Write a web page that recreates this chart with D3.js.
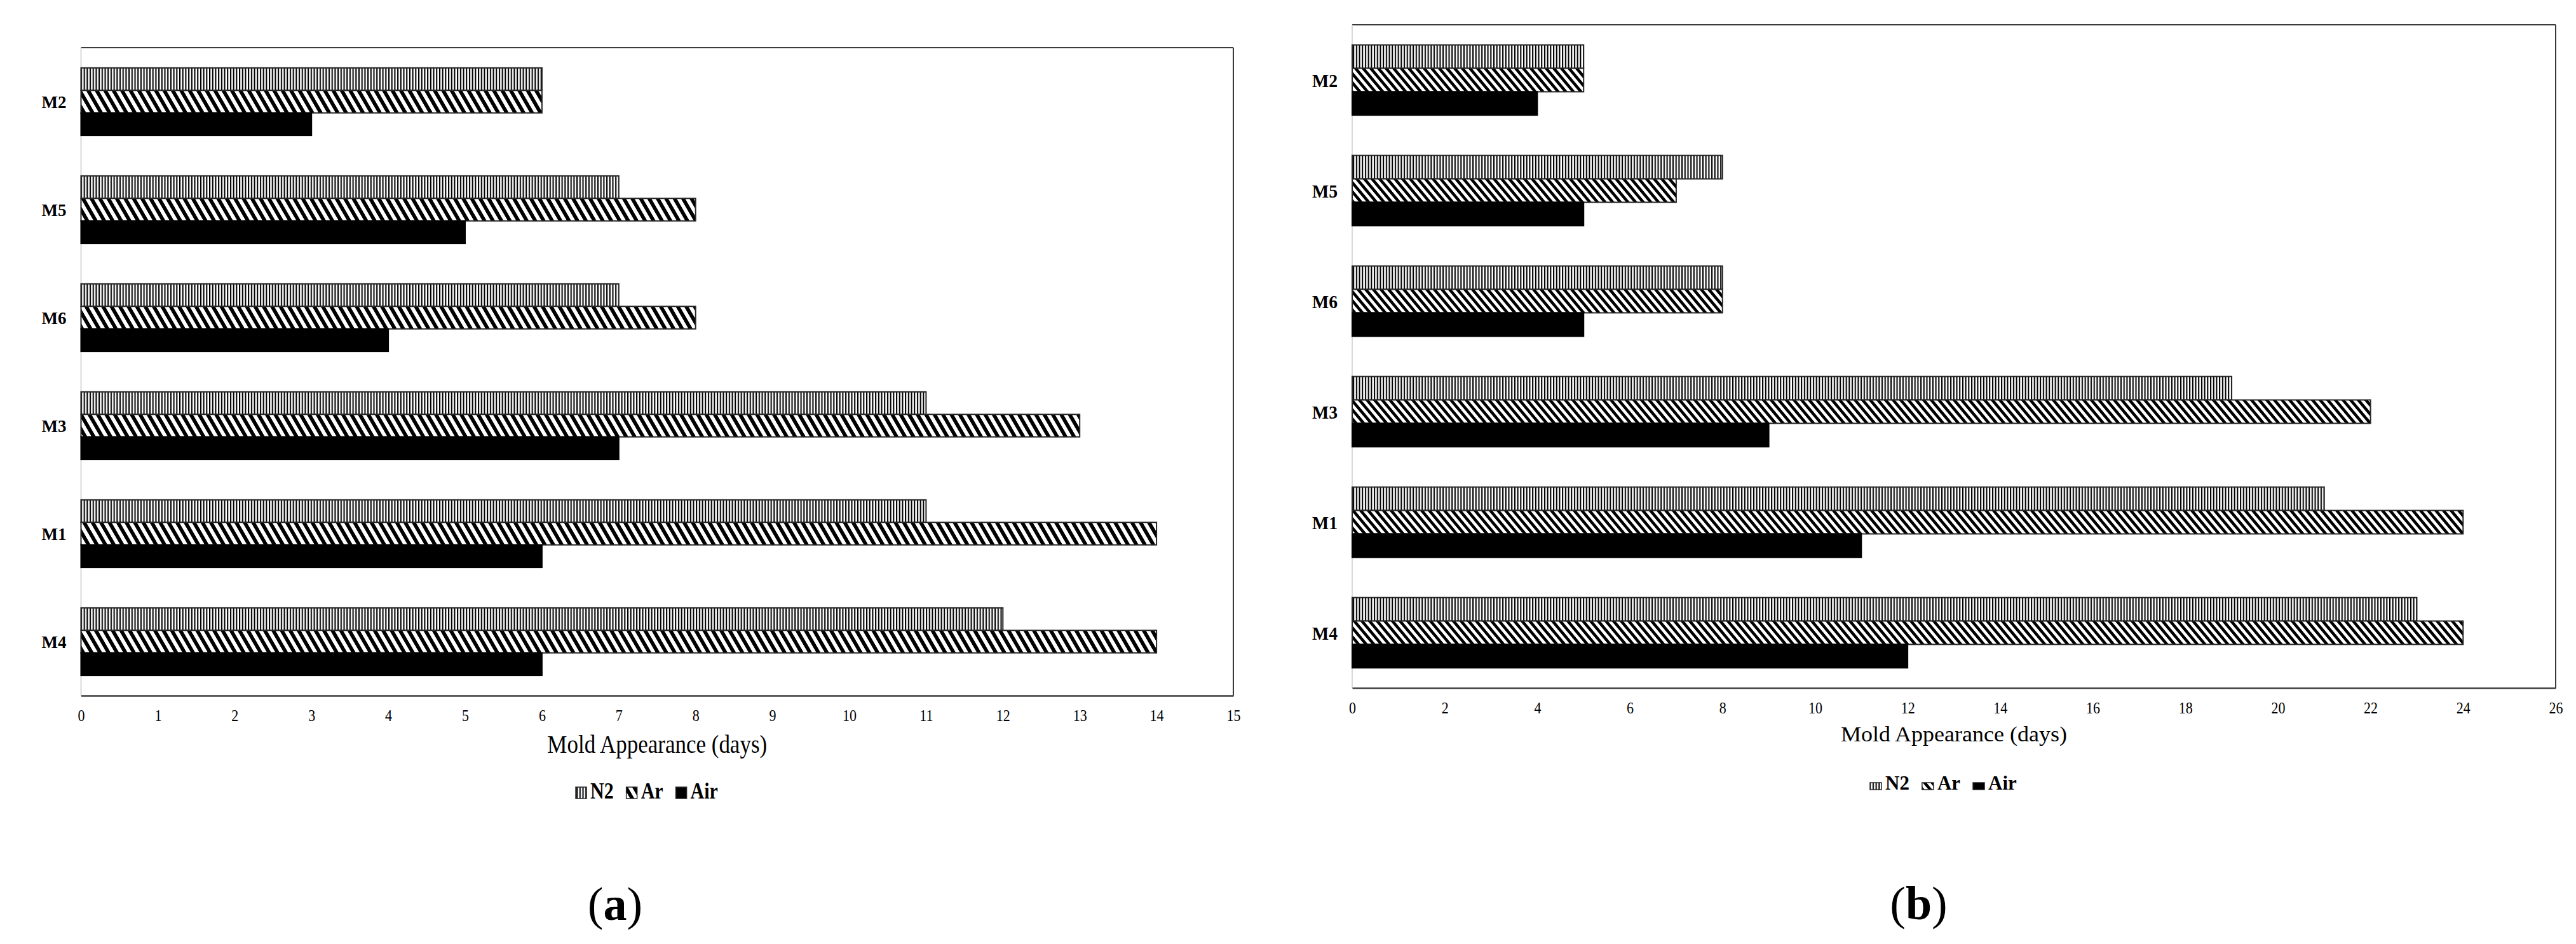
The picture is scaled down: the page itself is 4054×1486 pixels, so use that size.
<!DOCTYPE html>
<html>
<head>
<meta charset="utf-8">
<script src="https://cdn.jsdelivr.net/npm/d3@7/dist/d3.min.js"></script>
<style>
  html, body { margin: 0; padding: 0; background: #fff; }
  svg { display: block; }
  text { font-family: "Liberation Serif", "Times New Roman", serif; fill: #000; }
</style>
</head>
<body>
<script>
// ---------- data ----------
const categories = ["M2", "M5", "M6", "M3", "M1", "M4"];
const seriesNames = ["N2", "Ar", "Air"];

const n2A  = [6, 7, 7, 11, 11, 12];
const arA  = [6, 8, 8, 13, 14, 14];
const airA = [3, 5, 4, 7, 6, 6];

const n2B  = [5, 8, 8, 19, 21, 23];
const arB  = [5, 7, 8, 22, 24, 24];
const airB = [4, 5, 5, 9, 11, 12];

const ticksA = [0, 1, 2, 3, 4, 5, 6, 7, 8, 9, 10, 11, 12, 13, 14, 15];
const ticksB = [0, 2, 4, 6, 8, 10, 12, 14, 16, 18, 20, 22, 24, 26];

const axisTitle = "Mold Appearance (days)";
const panelLabels = ["a", "b"];

// ---------- layout ----------
const W = 4054, H = 1486;
const svg = d3.select("body").append("svg").attr("width", W).attr("height", H);
svg.append("rect").attr("width", W).attr("height", H).attr("fill", "#fff");
const defs = svg.append("defs");

function makePatterns(id, diagPitch, skew) {
  const v = defs.append("pattern").attr("id", "v" + id)
    .attr("patternUnits", "userSpaceOnUse").attr("width", 4.7).attr("height", 10);
  v.append("rect").attr("width", 4.7).attr("height", 10).attr("fill", "#fff");
  v.append("rect").attr("width", 2.1).attr("height", 10).attr("fill", "#000");
  const d = defs.append("pattern").attr("id", "d" + id)
    .attr("patternUnits", "userSpaceOnUse").attr("width", diagPitch).attr("height", 10)
    .attr("patternTransform", `skewX(${skew})`);
  d.append("rect").attr("width", diagPitch).attr("height", 10).attr("fill", "#fff");
  d.append("rect").attr("width", diagPitch / 2).attr("height", 10).attr("fill", "#000");
}

function txt(g, x, y, s, size, weight, anchor, k) {
  return g.append("text")
    .attr("transform", `translate(${x},${y}) scale(1,${k})`)
    .attr("font-size", size).attr("font-weight", weight)
    .attr("text-anchor", anchor).text(s);
}

function drawChart(cfg) {
  makePatterns(cfg.id, cfg.diagPitch, cfg.skew);
  const fills = ["url(#v" + cfg.id + ")", "url(#d" + cfg.id + ")", "#000"];
  const g = svg.append("g");
  const x = d3.scaleLinear().domain([cfg.ticks[0], cfg.ticks[cfg.ticks.length - 1]])
    .range([cfg.x0, cfg.x1]);
  const y = d3.scaleBand().domain(categories).range([cfg.y0, cfg.y1])
    .paddingInner(cfg.pad).paddingOuter(cfg.pad / 2);
  const ys = d3.scaleBand().domain(seriesNames).range([0, y.bandwidth()]);

  // frame: top & right dark, left light gray, bottom dark
  g.append("line").attr("x1", cfg.x0).attr("x2", cfg.x1).attr("y1", cfg.y0).attr("y2", cfg.y0)
    .attr("stroke", "#3a3a3a").attr("stroke-width", 2);
  g.append("line").attr("x1", cfg.x1).attr("x2", cfg.x1).attr("y1", cfg.y0).attr("y2", cfg.y1)
    .attr("stroke", "#3a3a3a").attr("stroke-width", 2);
  g.append("line").attr("x1", cfg.x0).attr("x2", cfg.x0).attr("y1", cfg.y0).attr("y2", cfg.y1)
    .attr("stroke", "#d9d9d9").attr("stroke-width", 2);

  // bars
  const vals = [cfg.n2, cfg.ar, cfg.air];
  categories.forEach((c, ci) => {
    seriesNames.forEach((s, si) => {
      g.append("rect")
        .attr("x", x(0))
        .attr("y", y(c) + ys(s))
        .attr("width", x(vals[si][ci]) - x(0))
        .attr("height", ys.bandwidth())
        .attr("fill", fills[si])
        .attr("stroke", si === 2 ? "#000" : "#262626")
        .attr("stroke-width", 2);
    });
    txt(g, cfg.x0 - 23, y(c) + y.bandwidth() / 2 + cfg.catDy, c, cfg.catSize, "bold", "end", cfg.catK);
  });

  // bottom axis
  const ax = g.append("g").attr("transform", `translate(0,${cfg.y1})`)
    .call(d3.axisBottom(x).tickValues(cfg.ticks).tickSize(0).tickFormat(d3.format("d")));
  ax.select(".domain").attr("stroke", "#3a3a3a").attr("stroke-width", 2.5);
  ax.selectAll(".tick text").each(function (d) {
    const t = d3.select(this);
    t.attr("y", null).attr("dy", null)
      .attr("transform", `translate(0,${cfg.tickBase - cfg.y1}) scale(1,${cfg.tickK})`)
      .attr("font-size", cfg.tickSize)
      .attr("font-family", '"Liberation Serif", "Times New Roman", serif')
      .attr("fill", "#000");
  });

  // axis title
  txt(g, (cfg.x0 + cfg.x1) / 2, cfg.titleBase, axisTitle, cfg.titleSize, "normal", "middle", cfg.titleK);

  // legend
  let lx = cfg.legX;
  seriesNames.forEach((s, si) => {
    g.append("rect").attr("x", lx).attr("y", cfg.legBase - cfg.iconH)
      .attr("width", cfg.iconW).attr("height", cfg.iconH)
      .attr("fill", fills[si]).attr("stroke", "#262626").attr("stroke-width", 1.5);
    const t = txt(g, lx + cfg.iconW + 6, cfg.legBase, s, cfg.legSize, "bold", "start", cfg.legK);
    lx = lx + cfg.iconW + 6 + t.node().getComputedTextLength() + 20;
  });

  // panel label
  const pl = g.append("text").attr("x", cfg.panelX).attr("y", cfg.panelBase)
    .attr("font-size", 74).attr("text-anchor", "middle");
  pl.append("tspan").text("(");
  pl.append("tspan").attr("font-weight", "bold").text(cfg.panel);
  pl.append("tspan").text(")");
}

drawChart({
  id: "A", n2: n2A, ar: arA, air: airA, ticks: ticksA,
  x0: 127.5, x1: 1941, y0: 75, y1: 1095, pad: 0.375,
  diagPitch: 13.3, skew: 30,
  catSize: 27, catK: 1.05, catDy: 9.6,
  tickSize: 22, tickK: 1.18, tickBase: 1135,
  titleSize: 35, titleK: 1.12, titleBase: 1185,
  legX: 906, legBase: 1257, legSize: 30, legK: 1.16, iconW: 17, iconH: 18,
  panel: panelLabels[0], panelX: 968, panelBase: 1448
});

drawChart({
  id: "B", n2: n2B, ar: arB, air: airB, ticks: ticksB,
  x0: 2128, x1: 4022, y0: 39, y1: 1083, pad: 0.364,
  diagPitch: 12, skew: 40,
  catSize: 27.7, catK: 1.09, catDy: 10.7,
  tickSize: 22, tickK: 1.12, tickBase: 1123,
  titleSize: 36, titleK: 0.95, titleBase: 1167,
  legX: 2943, legBase: 1243, legSize: 31, legK: 1.0, iconW: 18, iconH: 11,
  panel: panelLabels[1], panelX: 3019.5, panelBase: 1447
});
</script>
</body>
</html>
